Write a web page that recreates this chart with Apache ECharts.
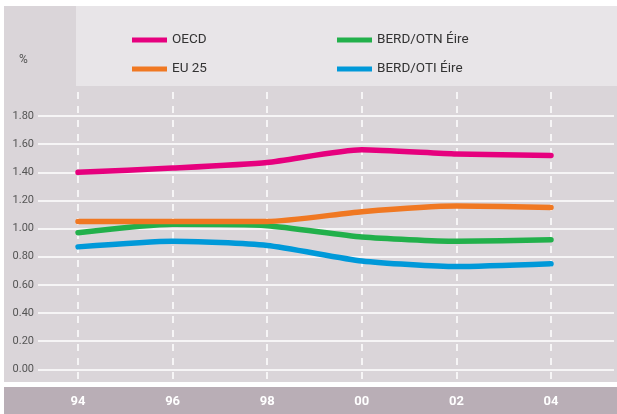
<!DOCTYPE html>
<html>
<head>
<meta charset="utf-8">
<script src="https://cdn.jsdelivr.net/npm/echarts@6/dist/echarts.min.js"></script>
<style>
html,body{margin:0;padding:0;background:#fff;}
#c{width:617px;height:414px;}
</style>
</head>
<body>
<div id="c"></div>
<script>
var years = [1994, 1996, 1998, 2000, 2002, 2004];
var tickLabels = ['94', '96', '98', '00', '02', '04'];
var seriesNames = ['OECD', 'EU 25', 'BERD/OTN Éire', 'BERD/OTI Éire'];
var oecd = [1.40, 1.43, 1.47, 1.56, 1.53, 1.52];
var eu25 = [1.05, 1.05, 1.05, 1.12, 1.16, 1.15];
var berdOtn = [0.97, 1.03, 1.02, 0.94, 0.91, 0.92];
var berdOti = [0.87, 0.91, 0.88, 0.77, 0.73, 0.75];
var colors = ['#e6007e', '#f07822', '#22b04b', '#0099d9'];

function pairs(vals) { return years.map(function (y, i) { return [y, vals[i]]; }); }

var chart = echarts.init(document.getElementById('c'), null, { renderer: 'canvas' });
var allVals = [oecd, eu25, berdOtn, berdOti];

chart.setOption({
  animation: false,
  textStyle: { fontFamily: 'Roboto' },
  graphic: [
    { type: 'rect', z: -10, shape: { x: 4, y: 6, width: 613, height: 376 }, style: { fill: '#dad5d9' }, silent: true },
    { type: 'rect', z: -9, shape: { x: 76, y: 6, width: 541, height: 80 }, style: { fill: '#e8e5e8' }, silent: true },
    { type: 'rect', z: -9, shape: { x: 4, y: 387, width: 613, height: 27 }, style: { fill: '#b9aeb6' }, silent: true },
    { type: 'text', z: 5, left: 19, top: 54, style: { text: '%', fill: '#555', font: '12px Roboto' } }
  ],
  legend: [
    {
      data: ['OECD', 'EU 25'], orient: 'vertical', left: 132, top: 33, padding: 0,
      icon: 'rect', itemWidth: 35, itemHeight: 5, itemGap: 15,
      textStyle: { color: '#333', fontSize: 13.5, lineHeight: 14, fontFamily: 'Roboto' }
    },
    {
      data: ['BERD/OTN Éire', 'BERD/OTI Éire'], orient: 'vertical', left: 337, top: 33, padding: 0,
      icon: 'rect', itemWidth: 35, itemHeight: 5, itemGap: 15,
      textStyle: { color: '#333', fontSize: 13.5, lineHeight: 14, fontFamily: 'Roboto' }
    }
  ],
  grid: [
    { left: 38, right: 3, top: 116, bottom: 44.7 },
    { left: 78, right: 66, top: 92, bottom: 32 }
  ],
  xAxis: [
    { gridIndex: 0, type: 'value', min: 1993.154, max: 2005.332, show: false },
    {
      gridIndex: 1, type: 'value', min: 1994, max: 2004, interval: 2,
      axisLine: { show: false }, axisTick: { show: false },
      splitLine: { show: true, lineStyle: { color: '#ffffff', width: 1.5, type: [7, 7] } },
      axisLabel: {
        color: '#ffffff', fontSize: 13, fontWeight: 'bold', margin: 13, fontFamily: 'Roboto',
        formatter: function (v) { return tickLabels[years.indexOf(v)] || ''; }
      }
    }
  ],
  yAxis: [
    {
      gridIndex: 0, type: 'value', min: 0, max: 1.8, interval: 0.2,
      axisLine: { show: false }, axisTick: { show: false },
      splitLine: { show: true, lineStyle: { color: '#ffffff', width: 1.5 } },
      axisLabel: { color: '#555', fontSize: 11, margin: 4, fontFamily: 'Roboto',
        formatter: function (v) { return v.toFixed(2); } }
    },
    { gridIndex: 1, type: 'value', min: 0, max: 1, show: false }
  ],
  series: seriesNames.map(function (n, i) {
    return {
      name: n, type: 'line', xAxisIndex: 0, yAxisIndex: 0,
      data: pairs(allVals[i]), smooth: 0.2, showSymbol: false, symbol: 'none',
      color: colors[i], z: 5 - i,
      lineStyle: { width: 5.5, color: colors[i], cap: 'round', join: 'round' }
    };
  })
});
</script>
</body>
</html>
